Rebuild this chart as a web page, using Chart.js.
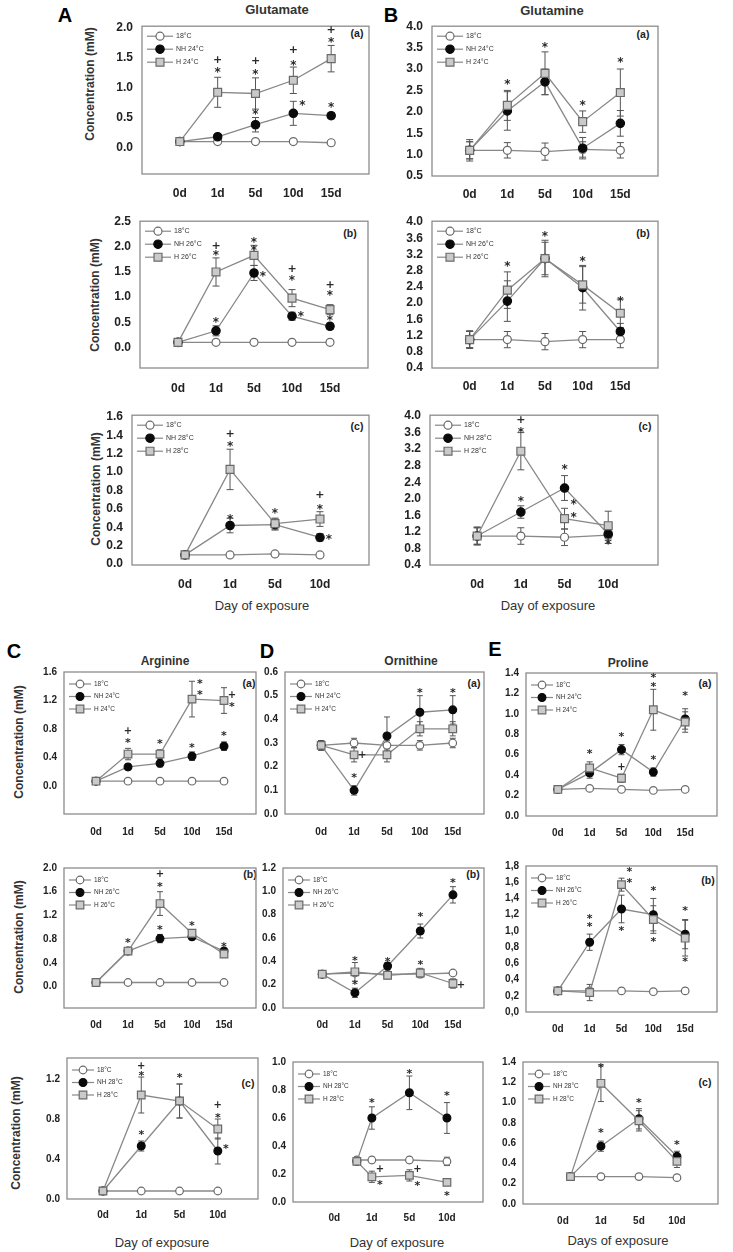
<!DOCTYPE html>
<html>
<head>
<meta charset="utf-8">
<script src="https://cdn.jsdelivr.net/npm/chart.js@4.4.1/dist/chart.umd.min.js"></script>
<style>
  body { margin: 0; background: #fff; width: 733px; height: 1252px; position: relative; overflow: hidden;
         font-family: "Liberation Sans", Arial, sans-serif; }
  canvas { position: absolute; }
  .t { position: absolute; transform: translate(-50%, -50%); white-space: nowrap; color: #222; }
  .big { font-size: 20px; font-weight: bold; color: #000; }
  .ttl { font-size: 13px; font-weight: bold; color: #333; }
  .ttl2 { font-size: 12px; font-weight: bold; color: #333; }
  .yt { font-size: 12px; font-weight: bold; color: #333; transform: translate(-50%, -50%) rotate(-90deg); }
  .xt { font-size: 13px; color: #333; }
  .tag { font-size: 10.5px; font-weight: bold; color: #222; }
</style>
</head>
<body>
<script>
// ---------------- categories / ticks ----------------
const days5 = ["0d", "1d", "5d", "10d", "15d"];
const days4 = ["0d", "1d", "5d", "10d"];
const x5 = [0, 1, 2, 3, 4];
const x4 = [0, 1, 2, 3];
const orn28_x = [0.6, 1, 2, 3];   // 0d points sit off the label in the original
const pro28_x = [0.2, 1, 2, 3];

const glu24_yt = [0, 0.5, 1, 1.5, 2];
const glu26_yt = [0, 0.5, 1, 1.5, 2, 2.5];
const glu28_yt = [0, 0.2, 0.4, 0.6, 0.8, 1.0, 1.2, 1.4, 1.6];
const gln24_yt = [0.5, 1, 1.5, 2, 2.5, 3, 3.5, 4];
const gln26_yt = [0.4, 0.8, 1.2, 1.6, 2.0, 2.4, 2.8, 3.2, 3.6, 4.0];
const gln28_yt = [0.4, 0.8, 1.2, 1.6, 2.0, 2.4, 2.8, 3.2, 3.6, 4.0];
const arg24_yt = [0, 0.4, 0.8, 1.2, 1.6];
const arg26_yt = [0, 0.4, 0.8, 1.2, 1.6, 2.0];
const arg28_yt = [0, 0.4, 0.8, 1.2];
const orn24_yt = [0, 0.1, 0.2, 0.3, 0.4, 0.5, 0.6];
const orn26_yt = [0, 0.2, 0.4, 0.6, 0.8, 1.0, 1.2];
const orn28_yt = [0, 0.2, 0.4, 0.6, 0.8, 1.0];
const pro24_yt = [0, 0.2, 0.4, 0.6, 0.8, 1.0, 1.2, 1.4];
const pro26_yt = [0, 0.2, 0.4, 0.6, 0.8, 1.0, 1.2, 1.4, 1.6, 1.8];
const pro28_yt = [0, 0.2, 0.4, 0.6, 0.8, 1.0, 1.2, 1.4];

// ---------------- Glutamate ----------------
const glu24_c18 = [0.10, 0.10, 0.10, 0.10, 0.08];
const glu24_nh = [0.10, 0.18, 0.38, 0.57, 0.53];
const glu24_h = [0.10, 0.92, 0.90, 1.12, 1.48];
const glu24_enh = [0, 0.04, 0.12, 0.20, 0.05];
const glu24_eh = [0, 0.25, 0.26, 0.22, 0.22];
const glu24_sig = [[1, 1.48, "+"], [1, 1.28, "*"], [2, 1.45, "+"], [2, 1.25, "*"], [2, 0.58, "*"],
  [3, 1.63, "+"], [3, 1.40, "*"], [3, 0.74, "*", "r"], [4, 1.97, "+"], [4, 1.78, "*"], [4, 0.71, "*"]];

const glu26_c18 = [0.10, 0.10, 0.10, 0.10, 0.10];
const glu26_nh = [0.10, 0.33, 1.48, 0.62, 0.42];
const glu26_h = [0.10, 1.50, 1.83, 0.98, 0.75];
const glu26_enh = [0, 0.10, 0.15, 0.08, 0.06];
const glu26_eh = [0, 0.28, 0.20, 0.17, 0.10];
const glu26_sig = [[1, 2.03, "+"], [1, 1.87, "*"], [1, 0.55, "*"], [2, 2.14, "*"], [2, 1.97, "*"],
  [2, 1.45, "*", "r"], [3, 1.57, "+"], [3, 1.38, "*"], [3, 0.65, "*", "r"], [4, 1.25, "+"], [4, 1.07, "*"], [4, 0.57, "*"]];

const glu28_c18 = [0.10, 0.10, 0.11, 0.10];
const glu28_nh = [0.10, 0.42, 0.43, 0.29];
const glu28_h = [0.10, 1.03, 0.44, 0.49];
const glu28_enh = [0, 0.08, 0.06, 0.04];
const glu28_eh = [0, 0.22, 0.06, 0.08];
const glu28_sig = [[1, 1.42, "+"], [1, 1.30, "*"], [1, 0.51, "*"], [2, 0.57, "*"], [3, 0.76, "+"],
  [3, 0.62, "*"], [3, 0.29, "*", "r"]];

// ---------------- Glutamine ----------------
const gln24_c18 = [1.10, 1.10, 1.07, 1.12, 1.10];
const gln24_nh = [1.10, 2.02, 2.70, 1.15, 1.73];
const gln24_h = [1.10, 2.15, 2.90, 1.77, 2.45];
const gln24_e18 = [0.25, 0.18, 0.20, 0.18, 0.18];
const gln24_enh = [0.20, 0.45, 0.30, 0.25, 0.30];
const gln24_eh = [0.20, 0.35, 0.50, 0.25, 0.55];
const gln24_sig = [[1, 2.68, "*"], [2, 3.55, "*"], [3, 2.20, "*"], [4, 3.20, "*"]];

const gln26_c18 = [1.10, 1.10, 1.05, 1.10, 1.10];
const gln26_nh = [1.10, 2.05, 3.10, 2.38, 1.30];
const gln26_h = [1.10, 2.32, 3.10, 2.45, 1.75];
const gln26_e18 = [0.22, 0.20, 0.20, 0.20, 0.20];
const gln26_enh = [0.20, 0.50, 0.40, 0.55, 0.20];
const gln26_eh = [0.20, 0.45, 0.45, 0.45, 0.35];
const gln26_sig = [[1, 2.95, "*"], [2, 3.70, "*"], [3, 3.07, "*"], [4, 2.10, "*"]];

const gln28_c18 = [1.10, 1.10, 1.07, 1.12];
const gln28_nh = [1.10, 1.68, 2.26, 1.15];
const gln28_h = [1.10, 3.15, 1.52, 1.35];
const gln28_e18 = [0.22, 0.20, 0.20, 0.20];
const gln28_enh = [0.20, 0.15, 0.30, 0.10];
const gln28_eh = [0.20, 0.45, 0.25, 0.35];
const gln28_sig = [[1, 3.92, "+"], [1, 3.66, "*"], [1, 2.00, "*"], [2, 2.76, "*"], [2, 1.92, "*", "r"],
  [2, 1.60, "*", "r"], [3, 0.96, "*"]];

// ---------------- Arginine ----------------
const arg24_c18 = [0.07, 0.07, 0.07, 0.07, 0.07];
const arg24_nh = [0.07, 0.27, 0.32, 0.42, 0.56];
const arg24_h = [0.07, 0.45, 0.45, 1.22, 1.20];
const arg24_enh = [0, 0.04, 0.05, 0.06, 0.06];
const arg24_eh = [0, 0.08, 0.06, 0.25, 0.18];
const arg24_sig = [[1, 0.78, "+"], [1, 0.64, "*"], [2, 0.62, "*"], [3, 1.47, "*", "r"], [3, 1.31, "*", "r"],
  [3, 0.57, "*"], [4, 1.28, "+", "r"], [4, 1.14, "*", "r"], [4, 0.74, "*"]];

const arg26_c18 = [0.07, 0.07, 0.07, 0.07, 0.07];
const arg26_nh = [0.07, 0.60, 0.81, 0.84, 0.60];
const arg26_h = [0.07, 0.60, 1.40, 0.90, 0.55];
const arg26_enh = [0, 0.05, 0.07, 0.05, 0.04];
const arg26_eh = [0, 0.05, 0.20, 0.06, 0.05];
const arg26_sig = [[1, 0.78, "*"], [2, 1.91, "+"], [2, 1.72, "*"], [2, 0.99, "*"], [3, 1.06, "*"], [4, 0.71, "*"]];

const arg28_c18 = [0.08, 0.08, 0.08, 0.08];
const arg28_nh = [0.08, 0.53, 0.98, 0.48];
const arg28_h = [0.08, 1.04, 0.98, 0.70];
const arg28_enh = [0, 0.05, 0.17, 0.13];
const arg28_eh = [0, 0.18, 0.17, 0.10];
const arg28_sig = [[1, 1.34, "+"], [1, 1.25, "*"], [1, 0.66, "*"], [2, 1.23, "*"], [3, 0.95, "+"],
  [3, 0.83, "*"], [3, 0.52, "*", "r"]];

// ---------------- Ornithine ----------------
const orn24_c18 = [0.29, 0.30, 0.29, 0.29, 0.30];
const orn24_nh = [0.29, 0.10, 0.33, 0.43, 0.44];
const orn24_h = [0.29, 0.25, 0.25, 0.36, 0.36];
const orn24_e18 = [0.02, 0.02, 0.02, 0.02, 0.02];
const orn24_enh = [0.02, 0.02, 0.08, 0.07, 0.06];
const orn24_eh = [0.02, 0.03, 0.03, 0.03, 0.03];
const orn24_sig = [[1, 0.25, "+", "r"], [1, 0.16, "*"], [3, 0.52, "*"], [4, 0.52, "*"]];

const orn26_c18 = [0.29, 0.30, 0.29, 0.29, 0.30];
const orn26_nh = [0.29, 0.13, 0.36, 0.66, 0.97];
const orn26_h = [0.29, 0.31, 0.28, 0.30, 0.21];
const orn26_enh = [0.02, 0.04, 0.03, 0.06, 0.07];
const orn26_eh = [0.02, 0.08, 0.03, 0.04, 0.04];
const orn26_sig = [[1, 0.42, "*"], [1, 0.22, "*"], [2, 0.41, "*"], [3, 0.80, "*"], [3, 0.39, "*"],
  [4, 1.09, "*"], [4, 0.20, "+", "r"]];

const orn28_c18 = [0.30, 0.30, 0.30, 0.29];
const orn28_nh = [0.29, 0.60, 0.78, 0.60];
const orn28_h = [0.29, 0.18, 0.19, 0.14];
const orn28_e18 = [0.02, 0.02, 0.02, 0.03];
const orn28_enh = [0.02, 0.08, 0.12, 0.11];
const orn28_eh = [0.02, 0.04, 0.04, 0.02];
const orn28_sig = [[1, 0.72, "*"], [1, 0.24, "+", "r"], [1, 0.14, "*", "r"], [2, 0.93, "*"], [2, 0.24, "+", "r"],
  [2, 0.13, "*", "r"], [3, 0.77, "*"], [3, 0.06, "*"]];

// ---------------- Proline ----------------
const pro24_c18 = [0.26, 0.27, 0.26, 0.25, 0.26];
const pro24_nh = [0.26, 0.42, 0.65, 0.43, 0.95];
const pro24_h = [0.26, 0.47, 0.37, 1.04, 0.92];
const pro24_enh = [0, 0.05, 0.05, 0.04, 0.10];
const pro24_eh = [0, 0.06, 0.04, 0.20, 0.10];
const pro24_sig = [[1, 0.63, "*"], [2, 0.80, "*"], [2, 0.49, "+"], [3, 1.37, "*"], [3, 1.29, "*"],
  [3, 0.57, "*"], [4, 1.20, "*"]];

const pro26_c18 = [0.26, 0.26, 0.26, 0.25, 0.26];
const pro26_nh = [0.26, 0.86, 1.27, 1.20, 0.96];
const pro26_h = [0.26, 0.24, 1.57, 1.14, 0.91];
const pro26_enh = [0, 0.10, 0.17, 0.20, 0.18];
const pro26_eh = [0, 0.10, 0.08, 0.17, 0.22];
const pro26_sig = [[1, 1.18, "*"], [1, 1.07, "*"], [2, 1.76, "*", "r"], [2, 1.62, "*", "r"], [2, 1.03, "*"],
  [3, 1.52, "*"], [3, 0.89, "*"], [4, 1.27, "*"], [4, 0.64, "*"]];

const pro28_c18 = [0.27, 0.27, 0.27, 0.26];
const pro28_nh = [0.27, 0.57, 0.84, 0.47];
const pro28_h = [0.27, 1.19, 0.82, 0.42];
const pro28_enh = [0, 0.05, 0.10, 0.05];
const pro28_eh = [0, 0.18, 0.10, 0.06];
const pro28_sig = [[1, 1.36, "*"], [1, 0.72, "*"], [2, 1.02, "*"], [3, 0.60, "*"]];

// ---------------- layout of the 15 panels ----------------
// box = plot frame [left, top, right, bottom] in page pixels
const PANELS = [
  { box: [142, 24, 369, 174], xr: [-1, 5], yr: [-0.44, 2.02], yt: glu24_yt, labels: days5, xs: x5, temp: "24", big: true, xpad: 12,
    c18: glu24_c18, nh: glu24_nh, h: glu24_h, enh: glu24_enh, eh: glu24_eh, sig: glu24_sig },
  { box: [432, 24, 658, 176], xr: [-1, 5], yr: [0.5, 4.0], yt: gln24_yt, labels: days5, xs: x5, temp: "24", big: true, xpad: 11,
    c18: gln24_c18, nh: gln24_nh, h: gln24_h, e18: gln24_e18, enh: gln24_enh, eh: gln24_eh, sig: gln24_sig },
  { box: [140, 219, 368, 368], xr: [-1, 5], yr: [-0.41, 2.51], yt: glu26_yt, labels: days5, xs: x5, temp: "26", big: true, xpad: 13,
    c18: glu26_c18, nh: glu26_nh, h: glu26_h, enh: glu26_enh, eh: glu26_eh, sig: glu26_sig },
  { box: [432, 219, 658, 368], xr: [-1, 5], yr: [0.4, 4.02], yt: gln26_yt, labels: days5, xs: x5, temp: "26", big: true, xpad: 11,
    c18: gln26_c18, nh: gln26_nh, h: gln26_h, e18: gln26_e18, enh: gln26_enh, eh: gln26_eh, sig: gln26_sig },
  { box: [132, 413, 369, 565], xr: [-1.18, 4.09], yr: [-0.01, 1.62], yt: glu28_yt, labels: days4, xs: x4, temp: "28", big: true, xpad: 12,
    c18: glu28_c18, nh: glu28_nh, h: glu28_h, enh: glu28_enh, eh: glu28_eh, sig: glu28_sig },
  { box: [430, 413, 658, 565], xr: [-1.08, 4.14], yr: [0.4, 4.02], yt: gln28_yt, labels: days4, xs: x4, temp: "28", big: true, xpad: 12,
    c18: gln28_c18, nh: gln28_nh, h: gln28_h, e18: gln28_e18, enh: gln28_enh, eh: gln28_eh, sig: gln28_sig },

  { box: [64, 672, 256, 814], xr: [-1, 5], yr: [-0.39, 1.6], yt: arg24_yt, labels: days5, xs: x5, temp: "24", xpad: 12,
    c18: arg24_c18, nh: arg24_nh, h: arg24_h, enh: arg24_enh, eh: arg24_eh, sig: arg24_sig },
  { box: [285, 672, 484, 814], xr: [-1.1, 4.95], yr: [0, 0.6], yt: orn24_yt, labels: days5, xs: x5, temp: "24", xpad: 12,
    c18: orn24_c18, nh: orn24_nh, h: orn24_h, e18: orn24_e18, enh: orn24_enh, eh: orn24_eh, sig: orn24_sig },
  { box: [526, 673, 717, 816], xr: [-1, 5], yr: [0, 1.4], yt: pro24_yt, labels: days5, xs: x5, temp: "24", xpad: 11,
    c18: pro24_c18, nh: pro24_nh, h: pro24_h, enh: pro24_enh, eh: pro24_eh, sig: pro24_sig },
  { box: [64, 868, 256, 1008], xr: [-1, 5], yr: [-0.36, 2.0], yt: arg26_yt, labels: days5, xs: x5, temp: "26", xpad: 11,
    c18: arg26_c18, nh: arg26_nh, h: arg26_h, enh: arg26_enh, eh: arg26_eh, sig: arg26_sig },
  { box: [283, 868, 484, 1008], xr: [-1.2, 4.95], yr: [0, 1.2], yt: orn26_yt, labels: days5, xs: x5, temp: "26", xpad: 11,
    c18: orn26_c18, nh: orn26_nh, h: orn26_h, enh: orn26_enh, eh: orn26_eh, sig: orn26_sig },
  { box: [526, 866, 717, 1012], xr: [-1, 5], yr: [0, 1.8], yt: pro26_yt, labels: days5, xs: x5, temp: "26", xpad: 11, comma: true,
    c18: pro26_c18, nh: pro26_nh, h: pro26_h, enh: pro26_enh, eh: pro26_eh, sig: pro26_sig },
  { box: [67, 1058, 258, 1199], xr: [-0.94, 4.05], yr: [0, 1.41], yt: arg28_yt, labels: days4, xs: x4, temp: "28", xpad: 10,
    c18: arg28_c18, nh: arg28_nh, h: arg28_h, enh: arg28_enh, eh: arg28_eh, sig: arg28_sig },
  { box: [293, 1062, 483, 1202], xr: [-1.1, 3.96], yr: [0, 1.0], yt: orn28_yt, labels: days4, xs: orn28_x, temp: "28", xpad: 10,
    c18: orn28_c18, nh: orn28_nh, h: orn28_h, e18: orn28_e18, enh: orn28_enh, eh: orn28_eh, sig: orn28_sig },
  { box: [523, 1062, 718, 1204], xr: [-1.05, 4.08], yr: [0, 1.4], yt: pro28_yt, labels: days4, xs: pro28_x, temp: "28", xpad: 11,
    c18: pro28_c18, nh: pro28_nh, h: pro28_h, enh: pro28_enh, eh: pro28_eh, sig: pro28_sig },
];

// free text: [text, x, y, class]
const TEXTS = [
  ["A", 65, 15, "big"], ["B", 391, 15, "big"], ["Glutamate", 277, 9, "ttl"], ["Glutamine", 552, 10, "ttl"],
  ["Concentration  (mM)", 90, 84, "yt"], ["Concentration  (mM)", 95, 295, "yt"], ["Concentration  (mM)", 96, 489, "yt"],
  ["Day of exposure", 262, 605, "xt"], ["Day of exposure", 548, 605, "xt"],
  ["(a)", 357, 33, "tag"], ["(a)", 643, 34, "tag"], ["(b)", 350, 233, "tag"], ["(b)", 643, 233, "tag"],
  ["(c)", 357, 426, "tag"], ["(c)", 645, 426, "tag"],
  ["C", 14, 651, "big"], ["D", 267, 651, "big"], ["E", 495, 649, "big"],
  ["Arginine", 165, 661, "ttl2"], ["Ornithine", 411, 661, "ttl2"], ["Proline", 628, 663, "ttl2"],
  ["Concentration  (mM)", 19, 742, "yt"], ["Concentration  (mM)", 19, 937, "yt"], ["Concentration  (mM)", 16, 1133, "yt"],
  ["(a)", 249, 683, "tag"], ["(a)", 474, 683, "tag"], ["(a)", 705, 683, "tag"],
  ["(b)", 250, 874, "tag"], ["(b)", 473, 874, "tag"], ["(b)", 708, 880, "tag"],
  ["(c)", 248, 1083, "tag"], ["(c)", 705, 1082, "tag"],
  ["Day of exposure", 162, 1242, "xt"], ["Day of exposure", 397, 1242, "xt"], ["Days of exposure", 618, 1240, "xt"],
];

TEXTS.forEach(([txt, x, y, cls]) => {
  const d = document.createElement("div");
  d.className = "t " + cls;
  d.style.left = x + "px";
  d.style.top = y + "px";
  d.textContent = txt;
  document.body.appendChild(d);
});

// ---------------- styles ----------------
const LINE = "#888";
const EDGE = "#6a6a6a";

function markerStyles(big) {
  return {
    c18: { pointStyle: "circle", pointRadius: big ? 4 : 3.8, pointBackgroundColor: "#fff", pointBorderColor: EDGE },
    nh: { pointStyle: "circle", pointRadius: big ? 4.2 : 3.9, pointBackgroundColor: "#0a0a0a", pointBorderColor: "#0a0a0a" },
    h: { pointStyle: "rect", pointRadius: big ? 5.6 : 5.4, pointBackgroundColor: "#cacaca", pointBorderColor: EDGE },
  };
}

function drawMarker(ctx, st, x, y) {
  ctx.fillStyle = st.pointBackgroundColor;
  ctx.strokeStyle = st.pointBorderColor;
  ctx.lineWidth = 1.2;
  ctx.beginPath();
  if (st.pointStyle === "rect") {
    const s = st.pointRadius * Math.SQRT1_2;
    ctx.rect(x - s, y - s, 2 * s, 2 * s);
  } else {
    ctx.arc(x, y, st.pointRadius, 0, Math.PI * 2);
  }
  ctx.fill();
  ctx.stroke();
}

const framePlugin = {
  id: "frame",
  beforeDatasetsDraw(chart) {
    const { ctx, chartArea: a } = chart;
    ctx.save();
    ctx.strokeStyle = "#8c8c8c";
    ctx.lineWidth = 1.3;
    ctx.strokeRect(a.left, a.top, a.right - a.left, a.bottom - a.top);
    ctx.restore();
  },
};

const errPlugin = {
  id: "errbars",
  beforeDatasetsDraw(chart) {
    const { ctx, scales: { x, y } } = chart;
    const cap = chart.options.plugins.errbars.cap;
    ctx.save();
    ctx.strokeStyle = "#555";
    ctx.lineWidth = 1;
    chart.data.datasets.forEach(ds => {
      if (!ds.errors) return;
      ds.data.forEach((pt, i) => {
        const e = ds.errors[i];
        if (!e) return;
        const px = x.getPixelForValue(pt.x);
        const y1 = y.getPixelForValue(pt.y + e);
        const y2 = y.getPixelForValue(pt.y - e);
        ctx.beginPath();
        ctx.moveTo(px, y1); ctx.lineTo(px, y2);
        ctx.moveTo(px - cap, y1); ctx.lineTo(px + cap, y1);
        ctx.moveTo(px - cap, y2); ctx.lineTo(px + cap, y2);
        ctx.stroke();
      });
    });
    ctx.restore();
  },
};

const sigPlugin = {
  id: "sig",
  afterDatasetsDraw(chart) {
    const o = chart.options.plugins.sig;
    const { ctx, scales: { x, y } } = chart;
    ctx.save();
    ctx.fillStyle = "#2a2a2a";
    ctx.textAlign = "center";
    ctx.textBaseline = "middle";
    o.marks.forEach(([xi, v, sym, side]) => {
      const px = x.getPixelForValue(xi) + (side === "r" ? o.dx : 0);
      const py = y.getPixelForValue(v);
      if (sym === "*") {
        ctx.font = "bold " + o.size + "px 'DejaVu Sans'";
        ctx.fillText("*", px, py + o.size * 0.22);
      } else {
        ctx.font = "bold " + (o.size - 1) + "px 'DejaVu Sans'";
        ctx.fillText("+", px, py + 1);
      }
    });
    ctx.restore();
  },
};

const legendPlugin = {
  id: "miniLegend",
  afterDraw(chart) {
    const o = chart.options.plugins.miniLegend;
    const { ctx, chartArea: a } = chart;
    ctx.save();
    ctx.font = o.font + "px 'Liberation Sans'";
    ctx.textBaseline = "middle";
    o.rows.forEach((row, k) => {
      const yy = a.top + o.offs[k];
      const x0 = a.left + o.x0;
      ctx.strokeStyle = LINE;
      ctx.lineWidth = 1.2;
      ctx.beginPath(); ctx.moveTo(x0, yy); ctx.lineTo(x0 + o.len, yy); ctx.stroke();
      drawMarker(ctx, row.st, x0 + o.len / 2, yy);
      ctx.fillStyle = "#333";
      ctx.fillText(row.label, x0 + o.len + 3, yy);
    });
    ctx.restore();
  },
};

// ---------------- build ----------------
function fmt(v, comma) {
  const s = v.toFixed(1);
  return comma ? s.replace(".", ",") : s;
}

function makePanel(p) {
  const [l, t, r, b] = p.box;
  const padL = 40, padT = 14, padR = 14, padB = 30;
  const cv = document.createElement("canvas");
  cv.width = r - l + padL + padR;
  cv.height = b - t + padT + padB;
  cv.style.left = (l - padL) + "px";
  cv.style.top = (t - padT) + "px";
  document.body.appendChild(cv);

  const st = markerStyles(p.big);
  const pts = arr => arr.map((v, i) => ({ x: p.xs[i], y: v }));
  const line = { borderColor: LINE, borderWidth: 1.3, pointBorderWidth: 1.2, tension: 0, fill: false };
  const tickFont = { family: "'Liberation Sans', Arial", size: p.big ? 12 : 10, weight: "bold" };

  new Chart(cv, {
    type: "line",
    data: {
      datasets: [
        Object.assign({ label: "H " + p.temp + "°C", data: pts(p.h), errors: p.eh }, line, st.h),
        Object.assign({ label: "NH " + p.temp + "°C", data: pts(p.nh), errors: p.enh }, line, st.nh),
        Object.assign({ label: "18°C", data: pts(p.c18), errors: p.e18 }, line, st.c18),
      ],
    },
    options: {
      responsive: false,
      animation: false,
      layout: { padding: { top: padT, right: padR, left: 0, bottom: 0 } },
      plugins: {
        legend: { display: false },
        tooltip: { enabled: false },
        errbars: { cap: p.big ? 3.5 : 3 },
        sig: { marks: p.sig, size: p.big ? 12 : 11, dx: p.big ? 9 : 8 },
        miniLegend: {
          font: p.big ? 7 : 6.5,
          x0: 5,
          len: p.big ? 26 : 22,
          offs: p.big ? [10, 23, 36] : [12, 24.5, 37],
          rows: [
            { label: "18°C", st: st.c18 },
            { label: "NH " + p.temp + "°C", st: st.nh },
            { label: "H " + p.temp + "°C", st: st.h },
          ],
        },
      },
      scales: {
        x: {
          type: "linear",
          min: p.xr[0],
          max: p.xr[1],
          grid: { display: false, drawTicks: false },
          border: { display: false },
          afterBuildTicks: s => { s.ticks = p.labels.map((_, i) => ({ value: i })); },
          afterFit: s => { s.height = padB; },
          ticks: {
            autoSkip: false, maxRotation: 0, padding: p.xpad, color: "#222", font: tickFont,
            callback: v => p.labels[v],
          },
        },
        y: {
          type: "linear",
          min: p.yr[0],
          max: p.yr[1],
          grid: { display: false, drawTicks: false },
          border: { display: false },
          afterBuildTicks: s => { s.ticks = p.yt.map(v => ({ value: v })); },
          afterFit: s => { s.width = padL; },
          ticks: {
            autoSkip: false, padding: p.big ? 9 : 7, color: "#222", font: tickFont,
            callback: v => fmt(v, p.comma),
          },
        },
      },
    },
    plugins: [framePlugin, errPlugin, sigPlugin, legendPlugin],
  });
}

PANELS.forEach(makePanel);
</script>
</body>
</html>
